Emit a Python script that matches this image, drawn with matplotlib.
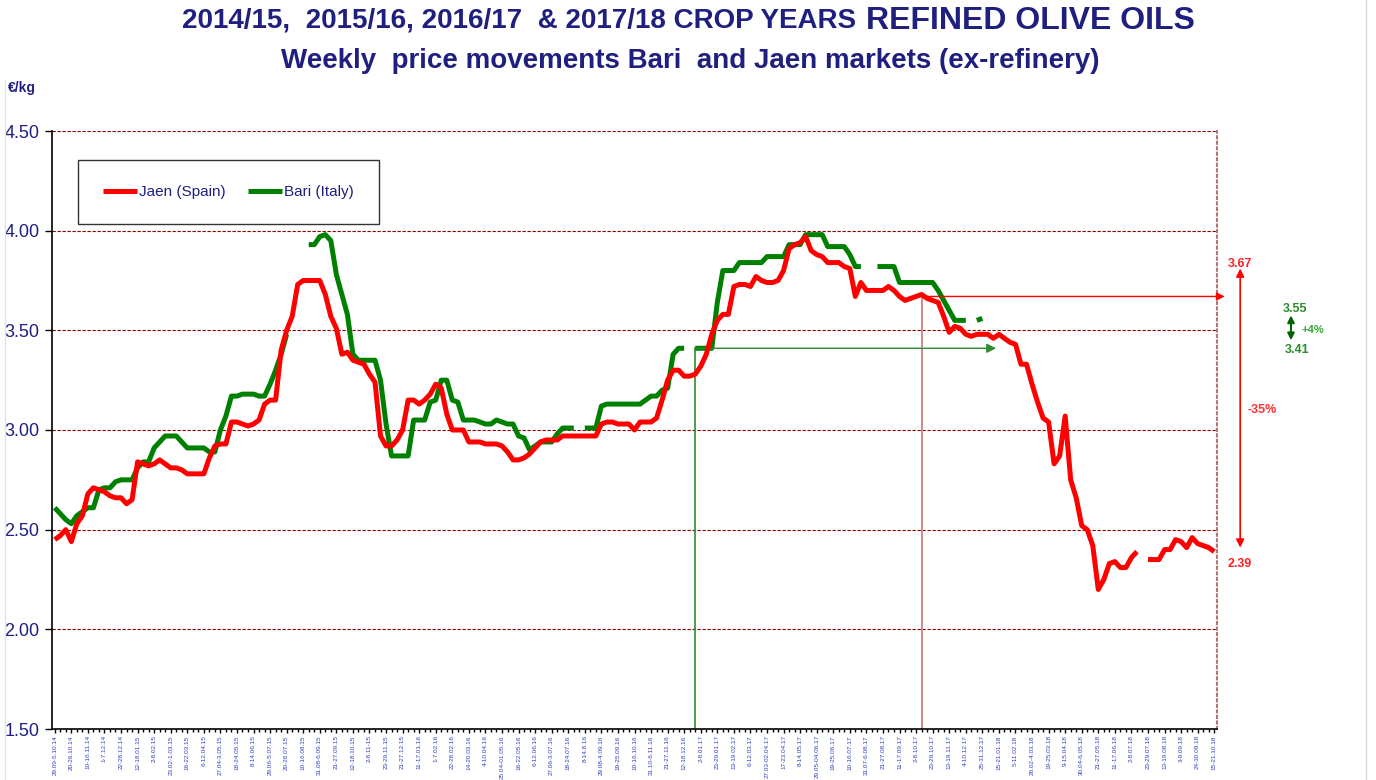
import numpy as np
import matplotlib
matplotlib.use("Agg")
import matplotlib.pyplot as plt

# Liberation Sans has Arial metrics; DejaVu as fallback
plt.rcParams['font.family'] = ['Liberation Sans', 'DejaVu Sans']

nan = np.nan

# one label every 3 weeks on the category axis
week_labels = [
    "29.09-5.10.14", "20-26.10.14", "10-16.11.14", "1-7.12.14", "22-28.12.14",
    "12-18.01.15", "2-8.02.15", "23.02-1.03.15", "16-22.03.15", "6-12.04.15",
    "27.04-3.05.15", "18-24.05.15", "8-14.06.15", "29.06-5.07.15", "20-26.07.15",
    "10-16.08.15", "31.08-6.09.15", "21-27.09.15", "12-18.10.15", "2-8.11-15",
    "23-29.11.15", "21-27.12.15", "11-17.01.16", "1-7.02.16", "22-28.02.16",
    "14-20.03.16", "4-10.04.16", "25.04-01.05.16", "16-22.05.16", "6-12.06.16",
    "27.06-3.07.16", "18-24.07.16", "8-14.8.16", "29.08-4.09.16", "19-25.09.16",
    "10-16.10.16", "31.10-6.11.16", "21-27.11.16", "12-18.12.16", "2-8.01.17",
    "23-29.01.17", "13-19.02.17", "6-12.03.17", "27.03-02.04.17", "17-23.04.17",
    "8-14.05.17", "29.05-04.06.17", "19-25.06.17", "10-16.07.17", "31.07-6.08.17",
    "21-27.08.17", "11-17.09.17", "2-8.10.17", "23-29.10.17", "13-19.11.17",
    "4-10.12.17", "25-31.12.17", "15-21.01.18", "5-11.02.18", "26.02-4.03.18",
    "19-25.03.18", "9-15.04.18", "30.04-6.05.18", "21-27.05.18", "11-17.06.18",
    "2-8.07.18", "23-29.07.18", "13-19.08.18", "3-9.09.18", "24-30.09.18",
    "15-21.10.18",
]

# weekly prices, euro/kg
jaen = [
    2.45, 2.47, 2.50, 2.44, 2.53, 2.57, 2.68, 2.71, 2.70, 2.69,
    2.67, 2.66, 2.66, 2.63, 2.65, 2.84, 2.83, 2.82, 2.83, 2.85,
    2.83, 2.81, 2.81, 2.80, 2.78, 2.78, 2.78, 2.78, 2.86, 2.92,
    2.93, 2.93, 3.04, 3.04, 3.03, 3.02, 3.03, 3.05, 3.13, 3.15,
    3.15, 3.40, 3.50, 3.57, 3.73, 3.75, 3.75, 3.75, 3.75, 3.68,
    3.57, 3.51, 3.38, 3.39, 3.35, 3.34, 3.33, 3.28, 3.24, 2.97,
    2.92, 2.92, 2.95, 3.00, 3.15, 3.15, 3.13, 3.15, 3.18, 3.23,
    3.21, 3.08, 3.00, 3.00, 3.00, 2.94, 2.94, 2.94, 2.93, 2.93,
    2.93, 2.92, 2.89, 2.85, 2.85, 2.86, 2.88, 2.91, 2.94, 2.95,
    2.95, 2.95, 2.97, 2.97, 2.97, 2.97, 2.97, 2.97, 2.97, 3.03,
    3.04, 3.04, 3.03, 3.03, 3.03, 3.00, 3.04, 3.04, 3.04, 3.06,
    3.15, 3.25, 3.30, 3.30, 3.27, 3.27, 3.28, 3.32, 3.38, 3.48,
    3.55, 3.58, 3.58, 3.72, 3.73, 3.73, 3.72, 3.77, 3.75, 3.74,
    3.74, 3.75, 3.80, 3.91, 3.93, 3.94, 3.97, 3.90, 3.88, 3.87,
    3.84, 3.84, 3.84, 3.82, 3.81, 3.67, 3.74, 3.70, 3.70, 3.70,
    3.70, 3.72, 3.70, 3.67, 3.65, 3.66, 3.67, 3.68, 3.66, 3.65,
    3.64, 3.57, 3.49, 3.52, 3.51, 3.48, 3.47, 3.48, 3.48, 3.48,
    3.46, 3.48, 3.46, 3.44, 3.43, 3.33, 3.33, 3.23, 3.14, 3.06,
    3.04, 2.83, 2.87, 3.07, 2.75, 2.66, 2.52, 2.50, 2.42, 2.20,
    2.25, 2.33, 2.34, 2.31, 2.31, 2.36, 2.39, nan, 2.35, 2.35,
    2.35, 2.40, 2.40, 2.45, 2.44, 2.41, 2.46, 2.43, 2.42, 2.41,
    2.39,
]

bari = [
    2.61, 2.58, 2.55, 2.53, 2.57, 2.59, 2.61, 2.61, 2.70, 2.71,
    2.71, 2.74, 2.75, 2.75, 2.75, 2.81, 2.84, 2.84, 2.91, 2.94,
    2.97, 2.97, 2.97, 2.94, 2.91, 2.91, 2.91, 2.91, 2.89, 2.89,
    3.00, 3.07, 3.17, 3.17, 3.18, 3.18, 3.18, 3.17, 3.17, 3.23,
    3.30, 3.38, 3.48, nan, nan, nan, 3.93, 3.93, 3.97, 3.98,
    3.95, 3.78, 3.68, 3.58, 3.38, 3.35, 3.35, 3.35, 3.35, 3.25,
    3.03, 2.87, 2.87, 2.87, 2.87, 3.05, 3.05, 3.05, 3.14, 3.15,
    3.25, 3.25, 3.15, 3.14, 3.05, 3.05, 3.05, 3.04, 3.03, 3.03,
    3.05, 3.04, 3.03, 3.03, 2.97, 2.96, 2.90, 2.92, 2.94, 2.94,
    2.94, 2.98, 3.01, 3.01, 3.01, nan, 3.01, 3.01, 3.01, 3.12,
    3.13, 3.13, 3.13, 3.13, 3.13, 3.13, 3.13, 3.15, 3.17, 3.17,
    3.20, 3.21, 3.38, 3.41, 3.41, nan, 3.41, 3.41, 3.41, 3.41,
    3.64, 3.80, 3.80, 3.80, 3.84, 3.84, 3.84, 3.84, 3.84, 3.87,
    3.87, 3.87, 3.87, 3.93, 3.93, 3.93, 3.98, 3.98, 3.98, 3.98,
    3.92, 3.92, 3.92, 3.92, 3.88, 3.82, 3.82, nan, nan, 3.82,
    3.82, 3.82, 3.82, 3.74, 3.74, 3.74, 3.74, 3.74, 3.74, 3.74,
    3.70, 3.65, 3.60, 3.55, 3.55, 3.55, nan, 3.55, 3.56, nan,
] + [nan] * 41

# reference points used by the arrows
bari_ref_week, bari_ref_price = 116, 3.41
bari_last_price = 3.55
jaen_ref_week, jaen_ref_price = 157, 3.67
jaen_last_price = 2.39

weeks = np.arange(len(jaen))
jaen = np.array(jaen, dtype=float)
bari = np.array(bari, dtype=float)

navy = '#1f1f80'
W, H = 1376, 780
fig = plt.figure(figsize=(W / 100, H / 100), dpi=100)
ax = fig.add_axes([52 / W, 1 - 729 / H, (1217 - 52) / W, (729 - 131) / H])

ax.plot(weeks, jaen, color='#ff0000', lw=3.6, label='Jaen (Spain)', solid_capstyle='butt', zorder=4)
ax.plot(weeks, bari, color='#008000', lw=3.6, label='Bari (Italy)', solid_capstyle='butt', zorder=3)

ax.set_xlim(-0.5, len(weeks) - 0.5)
ax.set_ylim(1.5, 4.5)

# axes and grid
ax.set_yticks(np.arange(1.5, 4.51, 0.5))
ax.set_yticklabels([f"{v:.2f}" for v in np.arange(1.5, 4.51, 0.5)], color=navy, fontsize=13)
for v in np.arange(2.0, 4.51, 0.5):
    ax.axhline(v, color='#8b0000', lw=0.8, ls=(0, (3, 1.5)), zorder=1)
ax.spines['top'].set_visible(False)
ax.spines['right'].set_color('#b07878')
ax.spines['right'].set_linestyle(':')
ax.spines['right'].set_linewidth(1.5)
ax.spines['left'].set_linewidth(1.2)
ax.spines['bottom'].set_linewidth(1.2)
ax.tick_params(axis='y', length=5, width=1, pad=4)

ax.set_xticks(weeks[::3])
ax.set_xticklabels(week_labels, rotation=90, fontsize=4.6, color='#3040c0')
ax.set_xticks(weeks, minor=True)
ax.tick_params(axis='x', which='major', length=3, width=1, pad=1.5)
ax.tick_params(axis='x', which='minor', length=2.5, width=1)

# reference lines and arrows
ax.plot([bari_ref_week, bari_ref_week], [1.5, bari_ref_price], color='#2e8b2e', lw=1.2, zorder=2)
ax.annotate('', xy=(170.5, bari_ref_price), xytext=(bari_ref_week, bari_ref_price),
            arrowprops=dict(arrowstyle='-|>', color='#2e8b2e', lw=1, mutation_scale=14,
                            shrinkA=0, shrinkB=0), annotation_clip=False)
ax.plot([jaen_ref_week, jaen_ref_week], [1.5, jaen_ref_price], color='#d08a8a', lw=1.4, zorder=2)
ax.annotate('', xy=(211.9, jaen_ref_price), xytext=(jaen_ref_week, jaen_ref_price),
            arrowprops=dict(arrowstyle='-|>', color='#ff0000', lw=1, mutation_scale=12,
                            shrinkA=0, shrinkB=0), annotation_clip=False)

# percentage change markers right of the plot
ax.annotate('', xy=(214.7, 3.81), xytext=(214.7, 2.41),
            arrowprops=dict(arrowstyle='<|-|>', color='#ff0000', lw=1.2, mutation_scale=12,
                            shrinkA=0, shrinkB=0), annotation_clip=False)
ax.text(214.7, 3.835, f"{jaen_ref_price:.2f}", color='#ff2020', fontsize=9, fontweight='bold',
        ha='center', va='center', clip_on=False)
ax.text(214.7, 2.33, f"{jaen_last_price:.2f}", color='#ff2020', fontsize=9, fontweight='bold',
        ha='center', va='center', clip_on=False)
ax.text(218.7, 3.10, "-35%", color='#ff3030', fontsize=9, fontweight='bold',
        ha='center', va='center', clip_on=False)

ax.annotate('', xy=(223.9, 3.575), xytext=(223.9, 3.45),
            arrowprops=dict(arrowstyle='<|-|>', color='#006400', lw=1.5, mutation_scale=10,
                            shrinkA=0, shrinkB=0), annotation_clip=False)
ax.text(224.7, 3.605, f"{bari_last_price:.2f}", color='#2e8b2e', fontsize=9, fontweight='bold',
        ha='center', va='center', clip_on=False)
ax.text(225.0, 3.40, f"{bari_ref_price:.2f}", color='#2e8b2e', fontsize=9, fontweight='bold',
        ha='center', va='center', clip_on=False)
ax.text(227.9, 3.50, "+4%", color='#33aa33', fontsize=8, fontweight='bold',
        ha='center', va='center', clip_on=False)

# legend
leg = ax.legend(loc='upper left', bbox_to_anchor=(78 / W, 1 - 160 / H), bbox_transform=fig.transFigure,
                ncol=2, frameon=True, fancybox=False, borderaxespad=0, borderpad=1.65,
                handlelength=2.2, handletextpad=0.15, columnspacing=1.45, fontsize=11)
leg.get_frame().set_edgecolor('black')
leg.get_frame().set_linewidth(1.0)
for t in leg.get_texts():
    t.set_color(navy)

# titles
fig.text(864 / W, 1 - 21 / H, "2014/15,  2015/16, 2016/17  & 2017/18 CROP YEARS ", color=navy,
         fontsize=20, fontweight='bold', ha='right', va='center')
fig.text(866 / W, 1 - 21 / H, "REFINED OLIVE OILS", color=navy,
         fontsize=23, fontweight='bold', ha='left', va='center')
fig.text(690 / W, 1 - 61 / H, "Weekly  price movements Bari  and Jaen markets (ex-refinery)", color=navy,
         fontsize=20, fontweight='bold', ha='center', va='center')
fig.text(8 / W, 1 - 88 / H, "€/kg", color=navy, fontsize=10, fontweight='bold', ha='left', va='center')

# thin chart-area border lines
fig.add_artist(plt.Line2D([1366 / W, 1366 / W], [0, 1], color='#d8d8d8', lw=1))
fig.add_artist(plt.Line2D([5 / W, 5 / W], [0, 1 - 80 / H], color='#dde4ee', lw=1))

fig.savefig("out.png", dpi=100)
